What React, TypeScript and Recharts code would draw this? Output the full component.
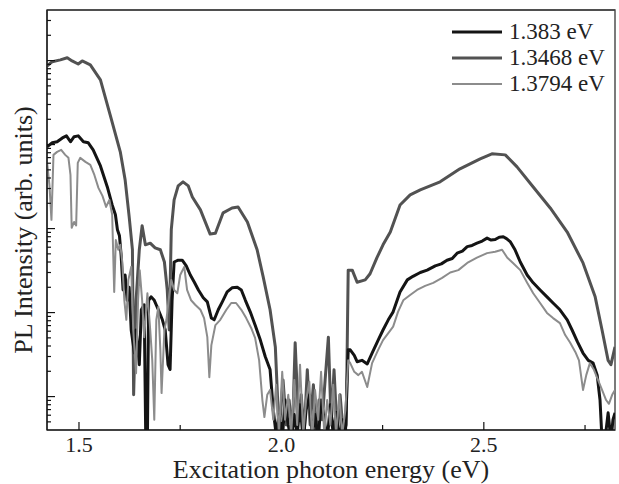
import { LineChart, Line, XAxis, YAxis, Legend, ReferenceArea } from 'recharts'

const FONT = '"Liberation Serif", "Times New Roman", serif'

// excitation photon energy (eV) and PL intensity (arb. units), one pair of arrays per detection energy
const E_1383 = [
  1.421, 1.434, 1.446, 1.459, 1.469, 1.479, 1.488, 1.498, 1.511, 1.523, 1.535, 1.553, 1.57, 1.582, 1.59,
  1.595, 1.6, 1.604, 1.609, 1.614, 1.619, 1.624, 1.629, 1.637, 1.641, 1.649, 1.654, 1.661, 1.665, 1.669,
  1.672, 1.678, 1.686, 1.696, 1.706, 1.713, 1.72, 1.725, 1.73, 1.735, 1.745, 1.755, 1.765, 1.775, 1.785,
  1.795, 1.807, 1.817, 1.827, 1.834, 1.844, 1.854, 1.866, 1.878, 1.891, 1.901, 1.911, 1.923, 1.935, 1.948,
  1.96, 1.972, 1.98, 1.987, 1.994, 2.002, 2.009, 2.017, 2.024, 2.032, 2.039, 2.046, 2.054, 2.061, 2.069,
  2.076, 2.083, 2.091, 2.098, 2.106, 2.113, 2.121, 2.128, 2.135, 2.143, 2.15, 2.158, 2.165, 2.17, 2.18,
  2.187, 2.199, 2.212, 2.224, 2.239, 2.251, 2.264, 2.276, 2.293, 2.311, 2.325, 2.343, 2.36, 2.38, 2.395,
  2.409, 2.422, 2.434, 2.447, 2.459, 2.471, 2.483, 2.496, 2.508, 2.518, 2.528, 2.538, 2.548, 2.556, 2.565,
  2.577, 2.59, 2.607, 2.622, 2.639, 2.656, 2.671, 2.688, 2.706, 2.718, 2.731, 2.745, 2.758, 2.77, 2.78,
  2.787, 2.792, 2.799, 2.807, 2.814, 2.819, 2.824,
]
const I_1383 = [
  940, 1050, 1080, 1200, 1270, 1080, 1240, 1270, 1080, 1050, 865, 557, 313, 191, 146,
  97, 82, 49, 18.6, 28, 14, 20, 6.2, 3.3, 6.2, 2.4, 10.8, 12.4, 0.3, 0.3,
  14, 15.4, 14, 10.8, 8.2, 6.2, 2.4, 2.1, 14, 40, 42, 42, 36, 28, 23,
  18.6, 15, 13.4, 8.6, 8.2, 10.8, 13.4, 17.6, 19.7, 20, 18.6, 14, 10.2, 7.1, 4.7,
  3.0, 2.1, 0.69, 0.35, 0.61, 0.3, 0.91, 0.46, 0.3, 0.61, 0.35, 0.8, 0.3, 0.69, 1.05,
  0.35, 0.61, 0.3, 0.91, 0.53, 0.3, 0.8, 0.35, 0.65, 0.3, 0.53, 0.35, 3.6, 3.6, 3.1,
  2.6, 2.7, 2.45, 3.3, 4.7, 6.2, 8.2, 10.2, 17.6, 24.5, 27, 30, 32, 36, 38,
  42, 44, 51, 54, 61, 63, 67, 71, 77, 73, 74, 79, 80, 76, 70,
  56, 40, 28, 22.6, 18.6, 15.4, 13, 10.8, 8.2, 6.2, 4.5, 3.3, 2.7, 2.5, 1.8,
  0.91, 0.3, 0.3, 0.64, 0.3, 0.53, 0.64,
]

const E_13468 = [
  1.421, 1.434, 1.454, 1.471, 1.483, 1.498, 1.508, 1.528, 1.553, 1.577, 1.602, 1.614, 1.624, 1.632, 1.635,
  1.641, 1.649, 1.656, 1.664, 1.676, 1.688, 1.701, 1.711, 1.718, 1.723, 1.728, 1.735, 1.745, 1.757, 1.77,
  1.78, 1.8, 1.824, 1.837, 1.856, 1.878, 1.893, 1.916, 1.94, 1.955, 1.972, 1.985, 1.99, 1.994, 2.004,
  2.012, 2.019, 2.027, 2.034, 2.042, 2.049, 2.056, 2.064, 2.071, 2.079, 2.086, 2.093, 2.101, 2.108, 2.116,
  2.123, 2.13, 2.138, 2.145, 2.153, 2.16, 2.165, 2.175, 2.187, 2.207, 2.219, 2.236, 2.251, 2.269, 2.293,
  2.318, 2.343, 2.392, 2.441, 2.491, 2.52, 2.553, 2.582, 2.622, 2.664, 2.706, 2.745, 2.775, 2.792, 2.807,
  2.814, 2.824,
]
const I_13468 = [
  8600, 9700, 10200, 10800, 9900, 9100, 9900, 8900, 5900, 2260, 820, 380, 138, 56, 1.05,
  14, 56, 108, 64, 67, 59, 56, 40, 18.6, 6.2, 97, 220, 322, 360, 322,
  238, 167, 86, 88, 154, 176, 181, 120, 56, 26.6, 10.8, 3.9, 1.1, 0.35, 1.58,
  0.46, 0.91, 0.35, 4.36, 0.53, 1.05, 0.35, 2.08, 0.46, 1.38, 0.35, 0.91, 0.53, 1.58, 5.1,
  0.46, 2.08, 0.35, 1.05, 0.35, 0.46, 32, 32, 23, 24.5, 29, 45, 64, 91, 191,
  252, 289, 360, 514, 676, 776, 754, 543, 313, 176, 91, 39, 15.4, 6.2, 2.7,
  2.4, 3.9,
]

const E_13794 = [
  1.421, 1.427, 1.432, 1.437, 1.446, 1.456, 1.466, 1.474, 1.479, 1.482, 1.488, 1.493, 1.497, 1.503, 1.516,
  1.528, 1.538, 1.548, 1.558, 1.567, 1.575, 1.582, 1.587, 1.591, 1.597, 1.602, 1.607, 1.612, 1.617, 1.622,
  1.629, 1.634, 1.641, 1.646, 1.65, 1.656, 1.661, 1.669, 1.676, 1.681, 1.686, 1.691, 1.696, 1.701, 1.704,
  1.711, 1.716, 1.723, 1.728, 1.735, 1.743, 1.75, 1.76, 1.767, 1.777, 1.787, 1.8, 1.809, 1.817, 1.822,
  1.827, 1.837, 1.849, 1.864, 1.876, 1.888, 1.901, 1.913, 1.925, 1.935, 1.945, 1.953, 1.958, 1.965, 1.972,
  1.98, 1.987, 1.994, 2.002, 2.009, 2.017, 2.024, 2.032, 2.039, 2.046, 2.054, 2.061, 2.069, 2.076, 2.083,
  2.091, 2.098, 2.106, 2.113, 2.121, 2.128, 2.135, 2.143, 2.15, 2.158, 2.165, 2.17, 2.18, 2.19, 2.199,
  2.212, 2.224, 2.239, 2.251, 2.264, 2.276, 2.288, 2.301, 2.318, 2.335, 2.355, 2.375, 2.397, 2.417, 2.437,
  2.459, 2.483, 2.508, 2.528, 2.545, 2.558, 2.572, 2.59, 2.607, 2.622, 2.639, 2.656, 2.671, 2.688, 2.701,
  2.713, 2.726, 2.735, 2.745, 2.753, 2.762, 2.772, 2.782, 2.792, 2.802, 2.809, 2.817, 2.824,
]
const I_13794 = [
  622, 331, 127, 754, 819, 865, 754, 695, 435, 102, 120, 109, 605, 695, 622,
  573, 435, 305, 245, 181, 220, 146, 17.6, 73, 56, 64, 40, 14, 8.2, 24.5,
  35, 6.2, 1.9, 14, 32, 14, 5.1, 17, 6.2, 2.7, 0.53, 8.2, 11.7, 3.6, 1.1,
  6.2, 8.2, 16.2, 24.5, 18.6, 17, 28, 35, 18.6, 14, 12.4, 10.8, 8.6, 5.1, 1.7,
  4.1, 7.1, 8.2, 10.8, 13, 13, 10.8, 8.6, 6.6, 5.0, 2.7, 0.91, 0.57, 1.05, 1.2,
  0.53, 1.38, 0.35, 1.97, 0.53, 1.05, 0.35, 1.58, 0.46, 2.4, 0.35, 0.91, 1.5, 0.3, 1.2,
  0.53, 1.97, 0.35, 0.91, 0.46, 1.38, 0.35, 1.05, 0.35, 0.69, 2.7, 2.5, 1.97, 1.8, 1.97,
  1.3, 2.5, 3.6, 4.7, 5.7, 6.8, 10.2, 14, 16.2, 18.6, 20.8, 22.6, 25.9, 30, 32,
  39, 45, 51, 53, 56, 45, 39, 32, 22.6, 17, 13, 9.9, 8.6, 7.5, 5.4,
  4.4, 3.4, 2.7, 1.2, 1.8, 2.5, 2.08, 1.58, 1.2, 0.91, 0.82, 1.05, 1.2,
]

const X_LABEL_TICKS = [1.5, 2.0, 2.5]
const X_TICKS = [1.5, 1.75, 2.0, 2.25, 2.5, 2.75]
const Y_MAJOR_TICKS = [1, 10, 100, 1000, 10000]
const Y_TICKS = [
  0.5, 0.6, 0.7, 0.8, 0.9, 1, 2, 3, 4, 5, 6, 7, 8, 9, 10, 20, 30, 40, 50, 60, 70, 80, 90, 100,
  200, 300, 400, 500, 600, 700, 800, 900, 1000, 2000, 3000, 4000, 5000, 6000, 7000, 8000, 9000,
  10000, 20000, 30000,
]
const X_DOMAIN = [1.421, 2.824]
const Y_DOMAIN = [0.4, 40000]

const SERIES = [
  { name: '1.383 eV', e: E_1383, i: I_1383, color: '#141414', width: 3 },
  { name: '1.3468 eV', e: E_13468, i: I_13468, color: '#525252', width: 3 },
  { name: '1.3794 eV', e: E_13794, i: I_13794, color: '#8c8c8c', width: 2 },
]
// drawing order: dark gray at the back, light gray on top
const DRAW_ORDER = [1, 0, 2]

const toRows = (e: number[], i: number[]) => e.map((x, k) => ({ e: x, v: i[k] }))

const YTick = ({ x, y, payload }: any) => {
  const major = Y_MAJOR_TICKS.includes(payload.value)
  return <line x1={x} x2={x + (major ? 8 : 4)} y1={y} y2={y} stroke="#111" strokeWidth={1.2} />
}

const XTick = ({ x, y, payload }: any) => {
  const major = X_LABEL_TICKS.includes(payload.value)
  return (
    <g>
      <line x1={x} x2={x} y1={y} y2={y - (major ? 8 : 5)} stroke="#111" strokeWidth={1.2} />
      {major && (
        <text x={x} y={y + 22} textAnchor="middle" fontSize={22} fontFamily={FONT} fill="#222">
          {payload.value.toFixed(1)}
        </text>
      )}
    </g>
  )
}

const XLabel = ({ viewBox }: any) => (
  <text
    x={viewBox.x + viewBox.width / 2}
    y={viewBox.y + 48}
    textAnchor="middle"
    fontSize={26}
    fontFamily={FONT}
    fill="#222"
  >
    Excitation photon energy (eV)
  </text>
)

const YLabel = ({ viewBox }: any) => {
  const cx = viewBox.x + 32
  const cy = viewBox.y + viewBox.height / 2 + 10
  return (
    <text
      x={cx}
      y={cy}
      transform={`rotate(-90 ${cx} ${cy})`}
      textAnchor="middle"
      fontSize={26}
      fontFamily={FONT}
      fill="#222"
    >
      PL Intensity (arb. units)
    </text>
  )
}

const renderLegend = () => (
  <div style={{ fontFamily: FONT, fontSize: 23, color: '#222' }}>
    {SERIES.map((s) => (
      <div key={s.name} style={{ display: 'flex', alignItems: 'center', height: 26 }}>
        <svg width={50} height={6}>
          <line x1={0} x2={50} y1={3} y2={3} stroke={s.color} strokeWidth={s.width} />
        </svg>
        <span style={{ marginLeft: 7, lineHeight: '26px', whiteSpace: 'nowrap' }}>{s.name}</span>
      </div>
    ))}
  </div>
)

export default function App() {
  // pinned to the page corner so the chart fills the window without scrollbars
  return (
    <div style={{ position: 'absolute', left: 0, top: 0, width: 619, height: 484, background: '#fff' }}>
      <LineChart width={619} height={484} margin={{ top: 9, right: 4, left: 0, bottom: 0 }}>
        <XAxis
          xAxisId="main"
          type="number"
          dataKey="e"
          domain={X_DOMAIN}
          allowDataOverflow
          ticks={X_TICKS}
          interval={0}
          tick={XTick}
          tickLine={false}
          tickSize={0}
          tickMargin={0}
          height={54}
          axisLine={{ stroke: '#111', strokeWidth: 1.2 }}
          label={XLabel}
        />
        {/* top edge of the frame */}
        <XAxis
          xAxisId="top"
          orientation="top"
          type="number"
          domain={X_DOMAIN}
          allowDataOverflow
          height={1}
          tick={false}
          tickLine={false}
          axisLine={{ stroke: '#444', strokeWidth: 1.4 }}
        />
        <YAxis
          yAxisId="main"
          scale="log"
          type="number"
          domain={Y_DOMAIN}
          allowDataOverflow
          ticks={Y_TICKS}
          interval={0}
          tick={YTick}
          tickLine={false}
          tickSize={0}
          tickMargin={0}
          width={47}
          axisLine={{ stroke: '#111', strokeWidth: 1.2 }}
          label={YLabel}
        />
        {/* whole plot box, gives the right edge of the frame */}
        <ReferenceArea
          xAxisId="main"
          yAxisId="main"
          x1={X_DOMAIN[0]}
          x2={X_DOMAIN[1]}
          y1={Y_DOMAIN[0]}
          y2={Y_DOMAIN[1]}
          fill="none"
          stroke="#444"
          strokeWidth={1.4}
          ifOverflow="visible"
        />
        <Legend
          layout="horizontal"
          verticalAlign="middle"
          align="center"
          content={renderLegend}
          wrapperStyle={{ top: 19, left: 452, width: 166, bottom: 'auto', right: 'auto' }}
        />
        {DRAW_ORDER.map((k) => {
          const s = SERIES[k]
          return (
            <Line
              key={s.name}
              xAxisId="main"
              yAxisId="main"
              data={toRows(s.e, s.i)}
              dataKey="v"
              name={s.name}
              type="linear"
              stroke={s.color}
              strokeWidth={s.width}
              strokeLinejoin="round"
              dot={false}
              activeDot={false}
              isAnimationActive={false}
            />
          )
        })}
      </LineChart>
    </div>
  )
}
